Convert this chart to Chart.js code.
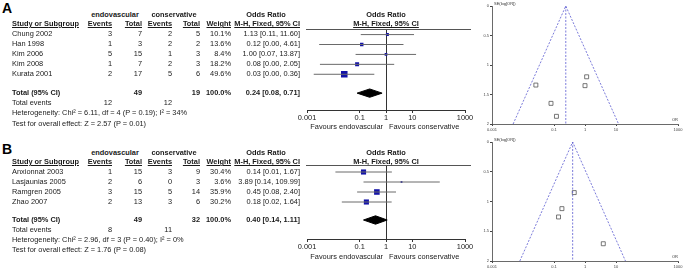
<!DOCTYPE html>
<html>
<head>
<meta charset="utf-8">
<script src="https://cdn.jsdelivr.net/npm/chart.js@4.4.1/dist/chart.umd.min.js"></script>
<style>
body { margin: 0; width: 685px; height: 268px; background: #fff; position: relative; overflow: hidden;
       font-family: "Liberation Sans", Arial, sans-serif; color: #1a1a1a; }
.t { position: absolute; font-size: 7.4px; line-height: 10px; white-space: nowrap; }
.b { font-weight: bold; }
.u { text-decoration: underline; }
.tiny { position: absolute; font-size: 4px; line-height: 5px; white-space: nowrap; color: #333; }
.hl { position: absolute; height: 0; border-top: 1px solid #555; }
.letter { position: absolute; font-size: 14px; line-height: 14px; font-weight: bold; color: #000; }
canvas { position: absolute; }
</style>
</head>
<body>
<div class="letter" style="left:2px;top:1px">A</div>
<div class="letter" style="left:2px;top:142px">B</div>
<canvas id="forestA" width="190" height="100"></canvas>
<canvas id="funnelA" width="205" height="134"></canvas>
<canvas id="forestB" width="190" height="100"></canvas>
<canvas id="funnelB" width="205" height="134"></canvas>
<script>
// axis ticks shared by both plots
const orTicks = [0.001, 0.1, 1, 10, 1000];
const orTickLabels = ['0.001', '0.1', '1', '10', '1000'];
const seTicks = [0, 0.5, 1, 1.5, 2];
const seTickLabels = ['0', '0.5', '1', '1.5', '2'];

// panel A
const studiesA = ['Chung 2002', 'Han 1998', 'Kim 2006', 'Kim 2008', 'Kurata 2001'];
const endoEventsA = [3, 1, 5, 1, 2];
const endoTotalA = [7, 3, 15, 7, 17];
const consEventsA = [2, 2, 1, 2, 5];
const consTotalA = [5, 2, 3, 3, 6];
const weightA = [10.1, 13.6, 8.4, 18.2, 49.6];
const orA = [1.13, 0.12, 1.00, 0.08, 0.026];
const loA = [0.11, 0.0029, 0.07, 0.0031, 0.0018];
const hiA = [11.60, 4.61, 13.87, 2.05, 0.36];
const seA = [1.20, 1.87, 1.35, 1.65, 1.34];
const pooledA = [0.24, 0.08, 0.71];
const totalsA = [49, 19];
const eventsA = [12, 12];
const funnelEndsA = [0.0048, 12.1];
const hetA = 'Heterogeneity: Chi² = 6.11, df = 4 (P = 0.19); I² = 34%';
const testA = 'Test for overall effect: Z = 2.57 (P = 0.01)';

// panel B
const studiesB = ['Anxionnat 2003', 'Lasjaunias 2005', 'Ramgren 2005', 'Zhao 2007'];
const endoEventsB = [1, 2, 3, 2];
const endoTotalB = [15, 6, 15, 13];
const consEventsB = [3, 0, 5, 3];
const consTotalB = [9, 3, 14, 6];
const weightB = [30.4, 3.6, 35.9, 30.2];
const orB = [0.14, 3.89, 0.45, 0.18];
const loB = [0.012, 0.14, 0.08, 0.021];
const hiB = [1.67, 109.99, 2.40, 1.64];
const seB = [1.26, 1.71, 0.85, 1.12];
const pooledB = [0.40, 0.14, 1.11];
const totalsB = [49, 32];
const eventsB = [8, 11];
const funnelEndsB = [0.0079, 20.2];
const hetB = 'Heterogeneity: Chi² = 2.96, df = 3 (P = 0.40); I² = 0%';
const testB = 'Test for overall effect: Z = 1.76 (P = 0.08)';

const FONT = '"Liberation Sans", Arial, sans-serif';
const colRight = [112, 142, 172, 200, 231, 300];

function put(x, y, s, cls, align) {
    const d = document.createElement('div');
    d.className = 't ' + (cls || '');
    d.textContent = s;
    if (align === 'r') { d.style.left = (x - 200) + 'px'; d.style.width = '200px'; d.style.textAlign = 'right'; }
    else if (align === 'c') { d.style.left = (x - 100) + 'px'; d.style.width = '200px'; d.style.textAlign = 'center'; }
    else d.style.left = x + 'px';
    d.style.top = (y - 5) + 'px';
    document.body.appendChild(d);
}

function line(x1, x2, y) {
    const d = document.createElement('div');
    d.className = 'hl';
    d.style.left = x1 + 'px'; d.style.width = (x2 - x1) + 'px'; d.style.top = y + 'px';
    document.body.appendChild(d);
}

function ciText(o, l, h) {
    return o.toFixed(2) + ' [' + l.toFixed(2) + ', ' + h.toFixed(2) + ']';
}

function table(L, names, ee, et, ce, ct, wt, or, lo, hi, pooled, totals, events, het, test) {
    put(115, L.h1, 'endovascular', 'b', 'c');
    put(174, L.h1, 'conservative', 'b', 'c');
    put(266, L.h1, 'Odds Ratio', 'b', 'c');
    put(386, L.h1, 'Odds Ratio', 'b', 'c');

    put(12, L.h2, 'Study or Subgroup', 'b u');
    put(colRight[0], L.h2, 'Events', 'b u', 'r');
    put(colRight[1], L.h2, 'Total', 'b u', 'r');
    put(colRight[2], L.h2, 'Events', 'b u', 'r');
    put(colRight[3], L.h2, 'Total', 'b u', 'r');
    put(colRight[4], L.h2, 'Weight', 'b u', 'r');
    put(colRight[5], L.h2, 'M-H, Fixed, 95% CI', 'b u', 'r');
    put(386, L.h2, 'M-H, Fixed, 95% CI', 'b u', 'c');
    line(306, 471, L.line);

    names.forEach((n, i) => {
        const y = L.row0 + i * 10;
        put(12, y, n);
        put(colRight[0], y, String(ee[i]), '', 'r');
        put(colRight[1], y, String(et[i]), '', 'r');
        put(colRight[2], y, String(ce[i]), '', 'r');
        put(colRight[3], y, String(ct[i]), '', 'r');
        put(colRight[4], y, wt[i].toFixed(1) + '%', '', 'r');
        put(colRight[5], y, ciText(or[i], lo[i], hi[i]), '', 'r');
    });

    put(12, L.total, 'Total (95% CI)', 'b');
    put(colRight[1], L.total, String(totals[0]), 'b', 'r');
    put(colRight[3], L.total, String(totals[1]), 'b', 'r');
    put(colRight[4], L.total, '100.0%', 'b', 'r');
    put(colRight[5], L.total, ciText(pooled[0], pooled[1], pooled[2]), 'b', 'r');
    put(12, L.events, 'Total events');
    put(colRight[0], L.events, String(events[0]), '', 'r');
    put(colRight[2], L.events, String(events[1]), '', 'r');
    put(12, L.het, het);
    put(12, L.test, test);

    put(383, L.fav, 'Favours endovascular', '', 'r');
    put(389, L.fav, 'Favours conservative');
}

function forest(id, L, or, lo, hi, wt, pooled) {
    const el = document.getElementById(id);
    const padTop = 4;
    const axisH = 14;
    el.style.left = '290px';
    el.style.top = (L.line - padTop) + 'px';
    el.height = padTop + (L.axis - L.line) + axisH;

    const yMin = (L.line - L.row0) / 10;
    const yMax = (L.axis - L.row0) / 10;
    const tr = (L.total - L.row0) / 10;

    const datasets = or.map((_, i) => ({
        data: [{ x: lo[i], y: i }, { x: hi[i], y: i }],
        showLine: true, borderColor: '#6a6a6a', borderWidth: 1, pointRadius: 0
    }));
    datasets.push({
        data: or.map((v, i) => ({ x: v, y: i })),
        pointStyle: 'rect',
        pointRadius: wt.map(w => 0.93 * Math.sqrt(w) / Math.SQRT2),
        backgroundColor: '#1212a8', borderWidth: 0
    });
    datasets.push({
        data: [
            { x: pooled[1], y: tr }, { x: pooled[0], y: tr - 0.42 },
            { x: pooled[2], y: tr }, { x: pooled[0], y: tr + 0.42 }, { x: pooled[1], y: tr }
        ],
        showLine: true, fill: 'shape', borderColor: '#000', backgroundColor: '#000',
        borderWidth: 1, pointRadius: 0, tension: 0
    });

    new Chart(el, {
        type: 'scatter',
        data: { datasets },
        options: {
            responsive: false, animation: false, events: [],
            layout: { padding: { top: padTop, left: 17, right: 15, bottom: 0 } },
            plugins: { legend: { display: false }, tooltip: { enabled: false } },
            scales: {
                x: {
                    type: 'logarithmic', min: 0.001, max: 1000,
                    afterBuildTicks: s => { s.ticks = orTicks.map(v => ({ value: v })); },
                    afterFit: s => { s.height = axisH; },
                    grid: {
                        color: c => (c.tick && c.tick.value === 1) ? '#333' : 'rgba(0,0,0,0)',
                        tickColor: '#333', tickLength: 3
                    },
                    border: { color: '#333', width: 1 },
                    ticks: {
                        callback: (v, i) => orTickLabels[i], autoSkip: false, maxRotation: 0,
                        padding: 1, color: '#1a1a1a', font: { family: FONT, size: 7.4 }
                    }
                },
                y: { type: 'linear', display: false, min: yMin, max: yMax, reverse: true }
            }
        }
    });
}

function funnel(id, top, bottomPad, or, se, pooled, ends) {
    const el = document.getElementById(id);
    el.style.left = '480px';
    el.style.top = top + 'px';

    new Chart(el, {
        type: 'scatter',
        data: {
            datasets: [
                {
                    data: [{ x: ends[0], y: 2 }, { x: pooled, y: 0 }, { x: ends[1], y: 2 }],
                    showLine: true, borderColor: '#5b5bd0', borderWidth: 0.8, borderDash: [2, 1.5], pointRadius: 0
                },
                {
                    data: [{ x: pooled, y: 0 }, { x: pooled, y: 2 }],
                    showLine: true, borderColor: '#5b5bd0', borderWidth: 0.8, borderDash: [2, 1.5], pointRadius: 0
                },
                {
                    data: or.map((v, i) => ({ x: v, y: se[i] })),
                    pointStyle: 'rect', pointRadius: 2.8, borderWidth: 0.8,
                    borderColor: '#555', backgroundColor: 'rgba(255,255,255,0)'
                }
            ]
        },
        options: {
            responsive: false, animation: false, events: [],
            layout: { padding: { top: 6, left: 2, right: 7, bottom: bottomPad } },
            plugins: { legend: { display: false }, tooltip: { enabled: false } },
            scales: {
                x: {
                    type: 'logarithmic', min: 0.001, max: 1000,
                    afterBuildTicks: s => { s.ticks = orTicks.map(v => ({ value: v })); },
                    afterFit: s => { s.height = 9; },
                    grid: { drawOnChartArea: false, tickColor: '#444', tickLength: 2 },
                    border: { color: '#444', width: 0.8 },
                    ticks: {
                        callback: (v, i) => orTickLabels[i], autoSkip: false, maxRotation: 0,
                        padding: 1, color: '#444', font: { family: FONT, size: 4 }
                    }
                },
                y: {
                    type: 'linear', min: 0, max: 2, reverse: true,
                    afterBuildTicks: s => { s.ticks = seTicks.map(v => ({ value: v })); },
                    afterFit: s => { s.width = 10; },
                    grid: { drawOnChartArea: false, tickColor: '#444', tickLength: 2 },
                    border: { color: '#444', width: 0.8 },
                    ticks: {
                        callback: (v, i) => seTickLabels[i], autoSkip: false,
                        padding: 1, color: '#444', font: { family: FONT, size: 4 }
                    }
                }
            }
        }
    });
}

function tiny(x, y, s) {
    const d = document.createElement('div');
    d.className = 'tiny';
    d.textContent = s;
    d.style.left = x + 'px';
    d.style.top = y + 'px';
    document.body.appendChild(d);
}

const layA = { h1: 15, h2: 24, line: 29, row0: 34, total: 93, events: 103, het: 113, test: 124, axis: 110, fav: 127 };
const layB = { h1: 153, h2: 162, line: 165, row0: 172, total: 220, events: 230, het: 240, test: 250, axis: 239, fav: 257 };

table(layA, studiesA, endoEventsA, endoTotalA, consEventsA, consTotalA, weightA, orA, loA, hiA, pooledA, totalsA, eventsA, hetA, testA);
table(layB, studiesB, endoEventsB, endoTotalB, consEventsB, consTotalB, weightB, orB, loB, hiB, pooledB, totalsB, eventsB, hetB, testB);

forest('forestA', layA, orA, loA, hiA, weightA, pooledA);
forest('forestB', layB, orB, loB, hiB, weightB, pooledB);

funnel('funnelA', 0, 1, orA, seA, pooledA[0], funnelEndsA);
funnel('funnelB', 136, 0, orB, seB, pooledB[0], funnelEndsB);

tiny(494, 1, 'SE(log[OR])');
tiny(672, 117, 'OR');
tiny(494, 137, 'SE(log[OR])');
tiny(672, 254, 'OR');
</script>
</body>
</html>
